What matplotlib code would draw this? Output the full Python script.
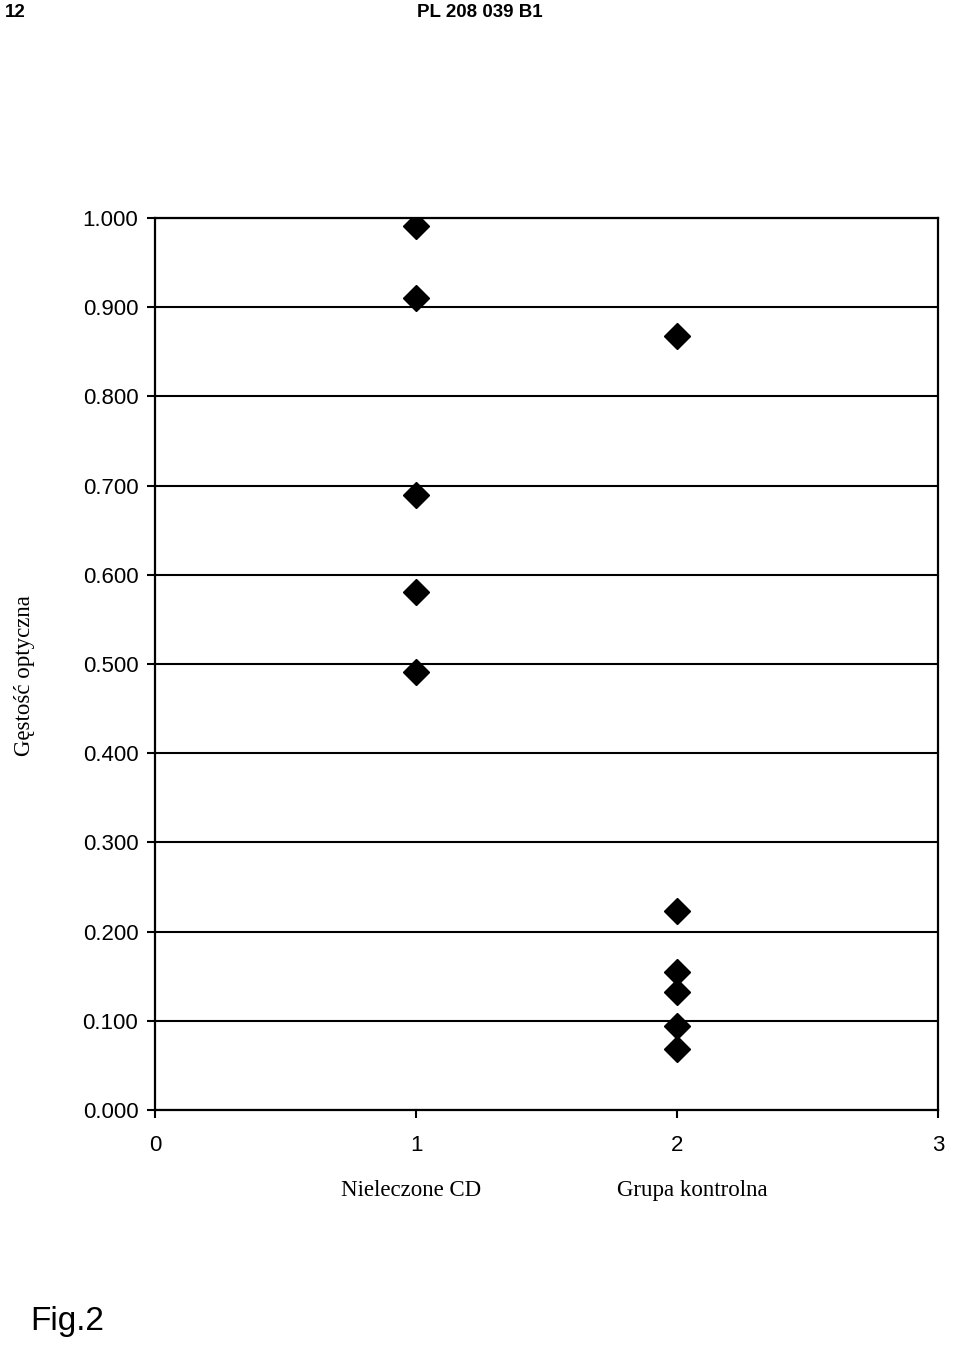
import matplotlib.pyplot as plt

# optical density readings per group
grp_x = [1, 2]
grp_names = ['Nieleczone CD', 'Grupa kontrolna']
od_untreated = [0.991, 0.910, 0.690, 0.581, 0.491]
od_control = [0.868, 0.223, 0.155, 0.132, 0.094, 0.068]
x_ticks = [0, 1, 2, 3]
y_ticks = [0.0, 0.1, 0.2, 0.3, 0.4, 0.5, 0.6, 0.7, 0.8, 0.9, 1.0]

fig = plt.figure(figsize=(9.6, 13.57), dpi=100)
ax = fig.add_axes([0.1615, 0.182, 0.8155, 0.6573])

ax.plot([grp_x[0]] * len(od_untreated), od_untreated, 'kD', markersize=13, ls='none')
ax.plot([grp_x[1]] * len(od_control), od_control, 'kD', markersize=13, ls='none')

ax.set_xlim(0, 3)
ax.set_ylim(0, 1.0)
ax.set_xticks(x_ticks)
ax.set_xticklabels([str(t) for t in x_ticks], family='Liberation Sans', fontsize=16)
ax.set_yticks(y_ticks)
ax.set_yticklabels([f"{t:.3f}" for t in y_ticks], family='Liberation Sans', fontsize=16)
ax.tick_params(direction='out', length=6, width=1.5, colors='black', pad=6)
ax.tick_params(axis='x', pad=12)
for s in ax.spines.values():
    s.set_linewidth(1.6)
ax.yaxis.grid(True, color='black', lw=1.5)
ax.set_axisbelow(True)

ax.set_ylabel('Gęstość optyczna', family='Liberation Serif', fontsize=16.5)
ax.yaxis.set_label_coords(-0.153, 0.487)
ax.text(grp_x[0] - 0.02, -0.09, grp_names[0], family='Liberation Serif', fontsize=16.5,
        ha='center', va='center')
ax.text(grp_x[1] + 0.06, -0.09, grp_names[1], family='Liberation Serif', fontsize=16.5,
        ha='center', va='center')

fig.text(0.005, 0.991, '12', family='Liberation Sans', fontsize=13.5, weight='bold', va='center')
fig.text(0.5, 0.991, 'PL 208 039 B1', family='Liberation Sans', fontsize=13.5, weight='bold',
         ha='center', va='center')
fig.text(0.031, 0.026, 'Fig.2', family='Liberation Sans', fontsize=24, va='center')

fig.savefig('out.png', dpi=100)
